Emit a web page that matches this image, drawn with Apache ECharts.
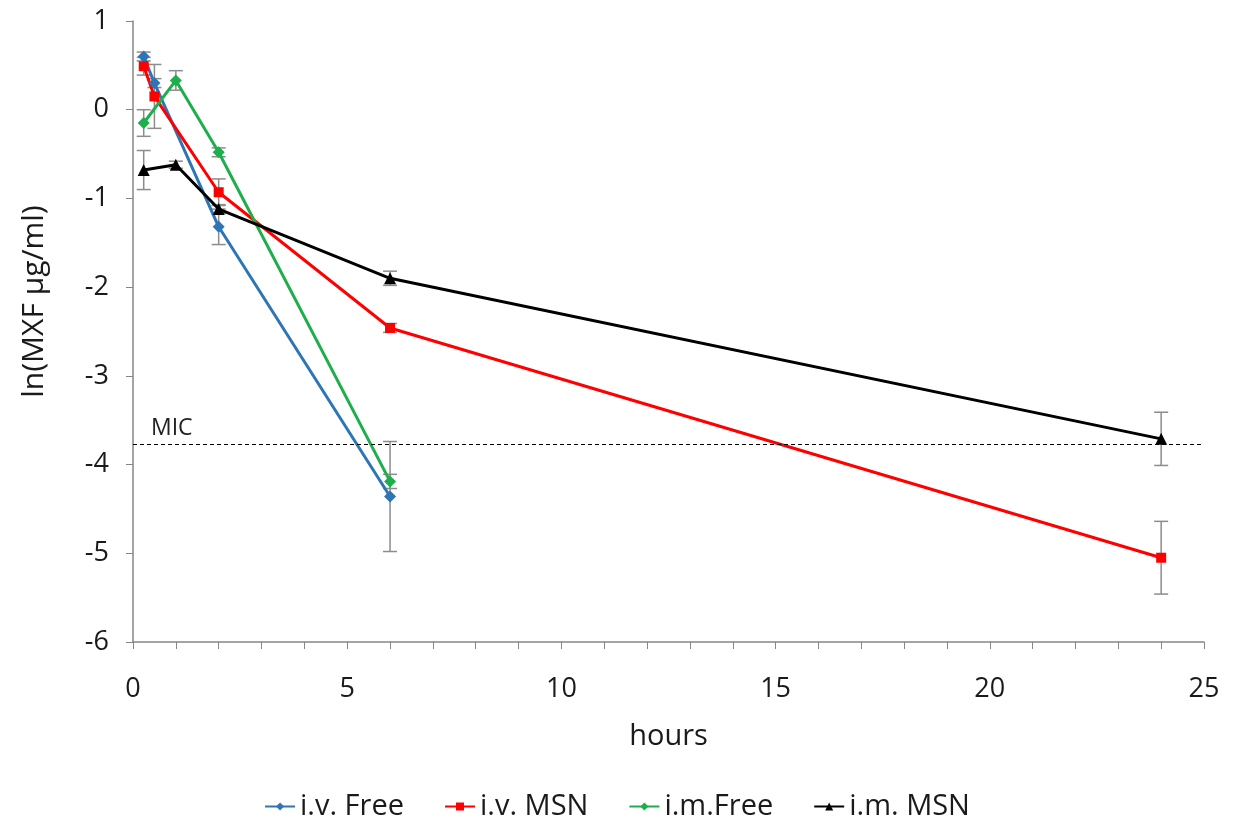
<!DOCTYPE html>
<html>
<head>
<meta charset="utf-8">
<script src="https://cdn.jsdelivr.net/npm/echarts@6/dist/echarts.min.js"></script>
<style>
  html, body { margin: 0; padding: 0; background: #fff; }
  #chart { width: 1234px; height: 826px; }
</style>
</head>
<body>
<div id="chart"></div>
<script>
// values
var ivFreeT = [0.25, 0.5, 2, 6];
var ivFreeY = [0.60, 0.30, -1.32, -4.36];
var ivFreeE = [0.05, 0.05, 0.20, 0.62];

var ivMsnT = [0.25, 0.5, 2, 6, 24];
var ivMsnY = [0.49, 0.15, -0.93, -2.46, -5.05];
var ivMsnE = [0.10, 0.36, 0.15, 0.05, 0.41];

var imFreeT = [0.25, 1, 2, 6];
var imFreeY = [-0.15, 0.33, -0.48, -4.19];
var imFreeE = [0.15, 0.11, 0.05, 0.08];

var imMsnT = [0.25, 1, 2, 6, 24];
var imMsnY = [-0.68, -0.62, -1.12, -1.90, -3.71];
var imMsnE = [0.22, 0.04, 0.05, 0.08, 0.30];

var micValue = -3.77;

var chart = echarts.init(document.getElementById('chart'));
var font = '"Open Sans", "Liberation Sans", sans-serif';

function pairs(t, y) {
    var out = [];
    for (var i = 0; i < t.length; i++) out.push([t[i], y[i]]);
    return out;
}
function errRows(t, y, e) {
    var out = [];
    for (var i = 0; i < t.length; i++) out.push([t[i], y[i] - e[i], y[i] + e[i]]);
    return out;
}

function errSeries(t, y, e) {
    return {
        type: 'custom',
        z: 1,
        silent: true,
        data: errRows(t, y, e),
        renderItem: function (params, api) {
            var lo = api.coord([api.value(0), api.value(1)]);
            var hi = api.coord([api.value(0), api.value(2)]);
            var w = 7;
            var st = { stroke: '#8c8c8c', lineWidth: 1.5 };
            return {
                type: 'group',
                children: [
                    { type: 'line', shape: { x1: lo[0], y1: lo[1], x2: hi[0], y2: hi[1] }, style: st },
                    { type: 'line', shape: { x1: lo[0] - w, y1: lo[1], x2: lo[0] + w, y2: lo[1] }, style: st },
                    { type: 'line', shape: { x1: hi[0] - w, y1: hi[1], x2: hi[0] + w, y2: hi[1] }, style: st }
                ]
            };
        }
    };
}

function lineSeries(name, t, y, color, symbol, size) {
    return {
        name: name,
        type: 'line',
        z: 3,
        data: pairs(t, y),
        symbol: symbol,
        symbolSize: size,
        showAllSymbol: true,
        lineStyle: { color: color, width: 3 },
        itemStyle: { color: color },
        emphasis: { disabled: true }
    };
}

var micLine = lineSeries('i.m. MSN', imMsnT, imMsnY, '#000000', 'triangle', 12);
micLine.markLine = {
    silent: true,
    symbol: 'none',
    lineStyle: { color: '#000', type: [4, 3], width: 1 },
    label: {
        show: true,
        position: 'insideStartTop',
        formatter: 'MIC',
        color: '#222',
        fontSize: 23,
        fontFamily: font,
        distance: [18, 4]
    },
    data: [{ yAxis: micValue }]
};

var option = {
    backgroundColor: '#fff',
    animation: false,
    textStyle: { fontFamily: font },
    grid: { left: 133, right: 30, top: 21, bottom: 184 },
    legend: {
        bottom: 0,
        left: 'center',
        itemWidth: 30,
        itemHeight: 10,
        itemGap: 40,
        textStyle: { fontSize: 29, color: '#1a1a1a', fontFamily: font },
        data: ['i.v. Free', 'i.v. MSN', 'i.m.Free', 'i.m. MSN']
    },
    xAxis: {
        type: 'value',
        min: 0,
        max: 25,
        interval: 5,
        name: 'hours',
        nameLocation: 'middle',
        nameGap: 80,
        nameTextStyle: { fontSize: 29, color: '#1a1a1a' },
        axisLine: { onZero: false, lineStyle: { color: '#868686', width: 1.5 } },
        axisTick: { show: true, length: 7, lineStyle: { color: '#868686' } },
        minorTick: { show: true, splitNumber: 5, length: 7, lineStyle: { color: '#868686' } },
        axisLabel: { fontSize: 27, color: '#1a1a1a', margin: 34 },
        splitLine: { show: false }
    },
    yAxis: {
        type: 'value',
        min: -6,
        max: 1,
        interval: 1,
        name: 'ln(MXF µg/ml)',
        nameLocation: 'middle',
        nameGap: 84,
        nameRotate: 90,
        nameTextStyle: { fontSize: 30, color: '#1a1a1a', padding: [0, 0, 0, 60] },
        axisLine: { show: true, onZero: false, lineStyle: { color: '#868686', width: 1.5 } },
        axisTick: { show: true, length: 7, lineStyle: { color: '#868686' } },
        axisLabel: { fontSize: 27, color: '#1a1a1a', margin: 24 },
        splitLine: { show: false }
    },
    series: [
        errSeries(ivFreeT, ivFreeY, ivFreeE),
        errSeries(ivMsnT, ivMsnY, ivMsnE),
        errSeries(imFreeT, imFreeY, imFreeE),
        errSeries(imMsnT, imMsnY, imMsnE),
        lineSeries('i.v. Free', ivFreeT, ivFreeY, '#2e75b6', 'diamond', 12),
        lineSeries('i.v. MSN', ivMsnT, ivMsnY, '#ff0000', 'rect', 10),
        lineSeries('i.m.Free', imFreeT, imFreeY, '#1fae4c', 'diamond', 12),
        micLine
    ]
};

chart.setOption(option);
</script>
</body>
</html>
